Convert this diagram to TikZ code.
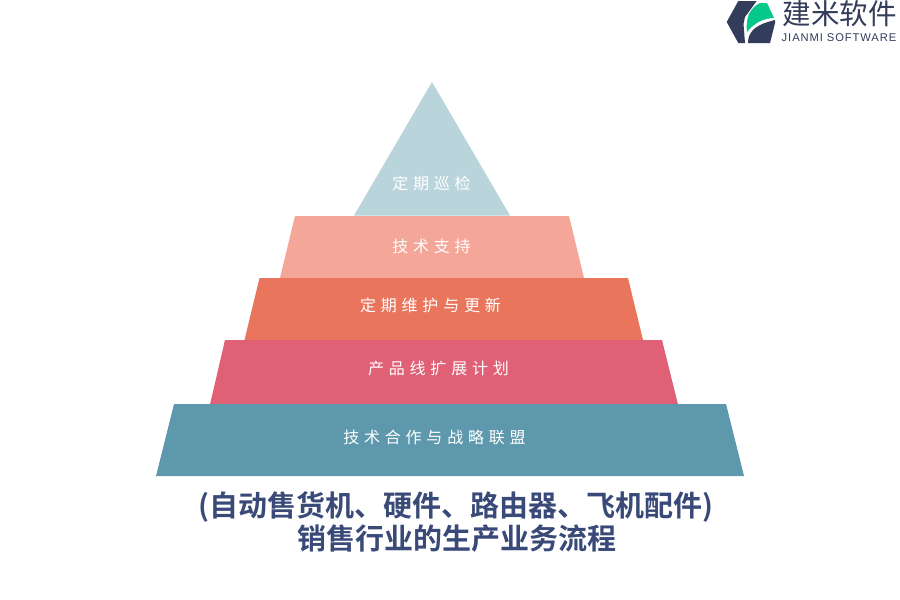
\documentclass[tikz,border=0pt]{standalone}
\usepackage{fontspec}
\setmainfont{Liberation Sans}
\newfontfamily\cjk{Noto Sans CJK SC}
\newfontfamily\cjkspaced[LetterSpace=30]{Noto Sans CJK SC}
\newfontfamily\cjkbold[BoldFont={Noto Sans CJK SC Bold}]{Noto Sans CJK SC}
\newfontfamily\latspaced[LetterSpace=8]{Liberation Sans}
\definecolor{tealband}{HTML}{5E98AD}
\definecolor{roseband}{HTML}{E06075}
\definecolor{orangeband}{HTML}{E9755C}
\definecolor{salmonband}{HTML}{F4A698}
\definecolor{paleband}{HTML}{BAD4DB}
\definecolor{titleblue}{HTML}{3A4A78}
\definecolor{logodark}{HTML}{333D5B}
\definecolor{logogreen}{HTML}{05C88A}
\tikzset{
  bandlabel/.style={text=white,font=\cjkspaced\fontsize{16}{16}\selectfont,inner sep=0pt,anchor=center},
  titleline/.style={text=titleblue,font=\cjkbold\bfseries\fontsize{29}{34}\selectfont,inner sep=0pt,anchor=center},
}
\begin{document}
\begin{tikzpicture}[x=1pt,y=-1pt]
\useasboundingbox (0,0) rectangle (900,600);
\fill[white] (0,0) rectangle (900,600);
% pyramid bands
\fill[paleband] (432,82) -- (510,215.5) -- (354,215.5) -- cycle;
\fill[salmonband] (295,216) -- (569,216) -- (584,278) -- (280,278) -- cycle;
\fill[orangeband] (259.5,278) -- (628,278) -- (643,340) -- (244.5,340) -- cycle;
\fill[roseband] (225,340) -- (662,340) -- (678,404.5) -- (210,404.5) -- cycle;
\fill[tealband] (174,404) -- (726,404) -- (744,476) -- (156,476) -- cycle;
% labels
\node[bandlabel] (l1) at (431.5,183) {定期巡检};
\node[bandlabel] (l2) at (431.5,246) {技术支持};
\node[bandlabel] (l3) at (430.5,305) {定期维护与更新};
\node[bandlabel] (l4) at (438.5,368) {产品线扩展计划};
\node[bandlabel] (l5) at (434.5,437) {技术合作与战略联盟};
% title
\node[titleline] (t1) at (456,506.5) {(自动售货机、硬件、路由器、飞机配件)};
\node[titleline] (t2) at (456.5,539) {销售行业的生产业务流程};
% logo
\fill[logodark] (738.3,1) -- (756.7,1) -- (745,17) -- (743.5,24) -- (745,43) -- (738.3,43) -- (726.7,22) -- cycle;
\fill[logodark] (748,43) .. controls (748,37) and (750,33) .. (754,29) .. controls (760,24) and (767,22) .. (775,20) -- (775,23) -- (770,43) -- cycle;
\fill[logogreen] (747,32) .. controls (746,26) and (747,19) .. (749,14) .. controls (752,8) and (756,5) .. (760,3) -- (767,3) -- (774,18) .. controls (764,18) and (754,23) .. (747,32) -- cycle;
\node[inner sep=0pt,text=logodark,font=\cjk\fontsize{28.5}{30}\selectfont] (logo1) at (839.5,14) {建米软件};
\node[inner sep=0pt,text=logodark,font=\latspaced\fontsize{11.2}{12}\selectfont] (logo2) at (839,38) {JIANMI SOFTWARE};
\end{tikzpicture}
\end{document}
